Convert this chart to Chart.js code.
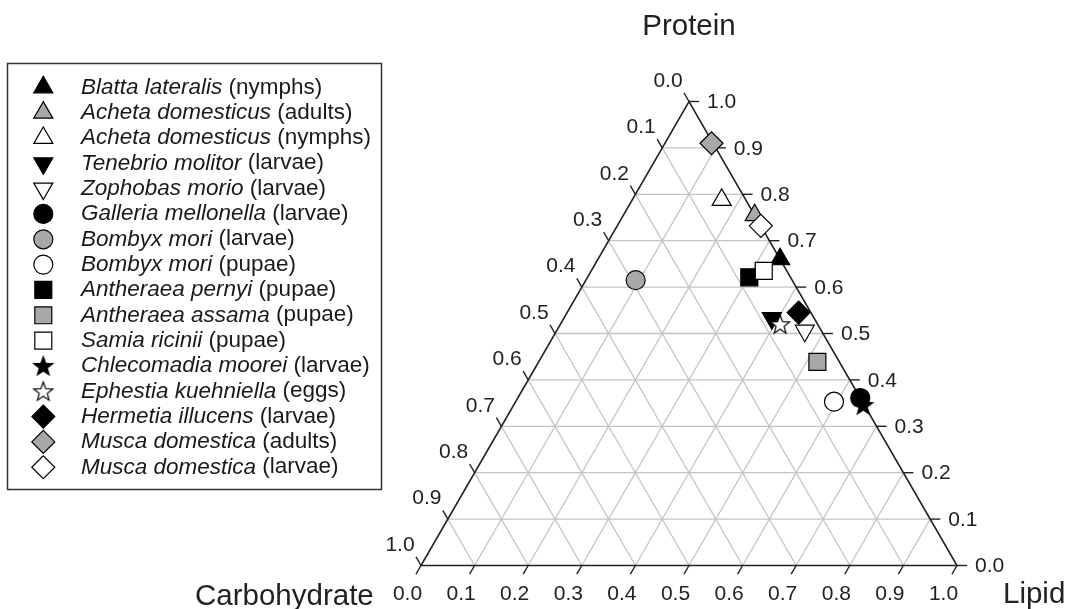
<!DOCTYPE html>
<html>
<head>
<meta charset="utf-8">
<script src="https://cdn.jsdelivr.net/npm/chart.js@4.4.1/dist/chart.umd.min.js"></script>
<style>
  body { margin: 0; background: #fff; }
  canvas { display: block; }
</style>
</head>
<body>
<canvas id="myChart" width="1070" height="609"></canvas>
<script>
// composition (fractions)
const species = [
  "Blatta lateralis", "Acheta domesticus", "Acheta domesticus", "Tenebrio molitor",
  "Zophobas morio", "Galleria mellonella", "Bombyx mori", "Bombyx mori",
  "Antheraea pernyi", "Antheraea assama", "Samia ricinii", "Chlecomadia moorei",
  "Ephestia kuehniella", "Hermetia illucens", "Musca domestica", "Musca domestica"
];
const stages = [
  "(nymphs)", "(adults)", "(nymphs)", "(larvae)", "(larvae)", "(larvae)", "(larvae)", "(pupae)",
  "(pupae)", "(pupae)", "(pupae)", "(larvae)", "(eggs)", "(larvae)", "(adults)", "(larvae)"
];
const protein =      [0.66, 0.755, 0.788, 0.533, 0.506, 0.361, 0.615, 0.353, 0.621, 0.439, 0.635, 0.346, 0.520, 0.545, 0.910, 0.732];
const lipid =        [0.34, 0.245, 0.167, 0.388, 0.463, 0.639, 0.093, 0.594, 0.302, 0.520, 0.322, 0.652, 0.410, 0.432, 0.087, 0.268];
const carbohydrate = [0.00, 0.000, 0.045, 0.079, 0.031, 0.000, 0.292, 0.053, 0.077, 0.041, 0.043, 0.002, 0.070, 0.023, 0.003, 0.000];
const tickLabels = ["0.0", "0.1", "0.2", "0.3", "0.4", "0.5", "0.6", "0.7", "0.8", "0.9", "1.0"];

const GREY = "#a8a8a8";
const FONT = "'Liberation Sans', Arial, sans-serif";

function starCanvas(fill) {
  const c = document.createElement("canvas");
  c.width = 24; c.height = 24;
  const g = c.getContext("2d");
  g.beginPath();
  for (let i = 0; i < 10; i++) {
    const r = i % 2 === 0 ? 10 : 4.2;
    const a = -Math.PI / 2 + i * Math.PI / 5;
    g.lineTo(12 + r * Math.cos(a), 12.8 + r * Math.sin(a));
  }
  g.closePath();
  g.fillStyle = fill;
  g.fill();
  g.lineWidth = 1.2;
  g.strokeStyle = "#000";
  g.stroke();
  return c;
}

// marker per species: [pointStyle, fill, radius, rotation]
const markers = [
  ["triangle", "#000", 11, 0],
  ["triangle", GREY, 11, 0],
  ["triangle", "#fff", 11, 0],
  ["triangle", "#000", 11, 180],
  ["triangle", "#fff", 11, 180],
  ["circle", "#000", 9.5, 0],
  ["circle", GREY, 9.5, 0],
  ["circle", "#fff", 9.5, 0],
  ["rect", "#000", 12, 0],
  ["rect", GREY, 12, 0],
  ["rect", "#fff", 12, 0],
  [starCanvas("#000"), "#000", 10, 0],
  [starCanvas("#fff"), "#fff", 10, 0],
  ["rectRot", "#000", 11.5, 0],
  ["rectRot", GREY, 11.5, 0],
  ["rectRot", "#fff", 11.5, 0]
];

// ternary -> cartesian (x along the lipid base, y = protein height)
function toXY(p, l, c) {
  const s = p + l + c;
  return { x: (l + p / 2) / s, y: p / s };
}

const datasets = species.map((name, i) => ({
  label: name + " " + stages[i],
  data: [toXY(protein[i], lipid[i], carbohydrate[i])],
  pointStyle: markers[i][0],
  backgroundColor: markers[i][1],
  borderColor: "#000",
  borderWidth: 1.2,
  pointRadius: markers[i][2],
  pointHoverRadius: markers[i][2],
  rotation: markers[i][3],
  order: species.length - i
}));

const ternaryPlugin = {
  id: "ternary",
  beforeDatasetsDraw(chart) {
    const ctx = chart.ctx;
    const xs = chart.scales.x, ys = chart.scales.y;
    const px = (x, y) => [xs.getPixelForValue(x), ys.getPixelForValue(y)];
    const seg = (a, b) => {
      ctx.beginPath();
      ctx.moveTo(a[0], a[1]);
      ctx.lineTo(b[0], b[1]);
      ctx.stroke();
    };
    ctx.save();
    // grid
    ctx.strokeStyle = "#c4c4c4";
    ctx.lineWidth = 1.3;
    for (let k = 1; k < 10; k++) {
      const v = k / 10;
      seg(px(v / 2, v), px(1 - v / 2, v));           // protein
      seg(px(v, 0), px(v + (1 - v) / 2, 1 - v));     // lipid
      seg(px((1 - v) / 2, 1 - v), px(1 - v, 0));     // carbohydrate
    }
    // edges
    ctx.strokeStyle = "#222";
    ctx.lineWidth = 1.6;
    ctx.beginPath();
    const a = px(0, 0), b = px(1, 0), t = px(0.5, 1);
    ctx.moveTo(a[0], a[1]); ctx.lineTo(b[0], b[1]); ctx.lineTo(t[0], t[1]); ctx.closePath();
    ctx.stroke();
    // ticks + labels
    ctx.fillStyle = "#222";
    ctx.font = "21px " + FONT;
    ctx.lineWidth = 1.4;
    for (let k = 0; k <= 10; k++) {
      const v = k / 10;
      // carbohydrate, left edge
      let p = px((1 - v) / 2, 1 - v);
      seg(p, [p[0] - 5, p[1] - 8.7]);
      ctx.textAlign = "center"; ctx.textBaseline = "middle";
      ctx.fillText(tickLabels[k], p[0] - 21, p[1] - 20.5);
      // protein, right edge
      p = px(1 - v / 2, v);
      seg(p, [p[0] + 10, p[1]]);
      ctx.textAlign = "left";
      ctx.fillText(tickLabels[k], p[0] + 18, p[1] + 1);
      // lipid, bottom edge
      p = px(v, 0);
      seg(p, [p[0] - 5, p[1] + 8.7]);
      ctx.textAlign = "center";
      ctx.fillText(tickLabels[k], p[0] - 13.5, p[1] + 29);
    }
    // axis titles
    ctx.font = "29.5px " + FONT;
    ctx.textBaseline = "alphabetic";
    ctx.textAlign = "center";
    ctx.fillText("Protein", 689, 35);
    ctx.textAlign = "left";
    ctx.fillText("Carbohydrate", 195, 605);
    ctx.fillText("Lipid", 1003, 603);
    ctx.restore();
  },
  afterDraw(chart) {
    const ctx = chart.ctx;
    ctx.save();
    ctx.strokeStyle = "#333";
    ctx.lineWidth = 1.5;
    ctx.strokeRect(7.5, 63.5, 374, 426);
    ctx.textBaseline = "middle";
    chart.data.datasets.forEach((ds, i) => {
      const y = 87.3 + i * 25.33;
      ctx.fillStyle = ds.backgroundColor;
      ctx.strokeStyle = "#000";
      ctx.lineWidth = ds.borderWidth;
      Chart.helpers.drawPoint(ctx, {
        pointStyle: ds.pointStyle,
        rotation: ds.rotation,
        radius: ds.pointRadius,
        borderWidth: ds.borderWidth
      }, 43.3, y);
      ctx.fillStyle = "#1a1a1a";
      ctx.font = "italic 22.5px " + FONT;
      ctx.textAlign = "left";
      ctx.fillText(species[i], 81, y);
      const w = ctx.measureText(species[i] + " ").width;
      ctx.font = "22.5px " + FONT;
      ctx.fillText(stages[i], 81 + w, y);
    });
    ctx.restore();
  }
};

const ctx = document.getElementById("myChart");
const myChart = new Chart(ctx, {
  type: "scatter",
  data: { datasets: datasets },
  options: {
    responsive: false,
    animation: false,
    layout: { padding: { left: 421, right: 113, top: 101.5, bottom: 43.5 } },
    scales: {
      x: { type: "linear", min: 0, max: 1, display: false },
      y: { type: "linear", min: 0, max: 1, display: false }
    },
    plugins: { legend: { display: false }, tooltip: { enabled: false } }
  },
  plugins: [ternaryPlugin]
});
</script>
</body>
</html>
